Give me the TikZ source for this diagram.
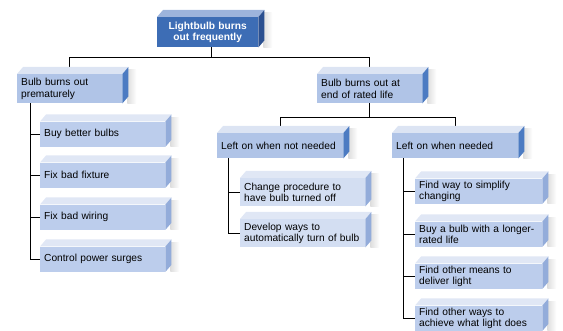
\documentclass[tikz,border=0pt]{standalone}
\usepackage{fontspec}
\setmainfont{Liberation Sans}
\definecolor{rootfront}{HTML}{3D6DB5}
\definecolor{roottop}{HTML}{9DB4DC}
\definecolor{rootside}{HTML}{2B5090}
\definecolor{midfront}{HTML}{B0C4E7}
\definecolor{midtop}{HTML}{DCE4F3}
\definecolor{midside}{HTML}{4C7BC2}
\definecolor{leaffront}{HTML}{BCCDEC}
\definecolor{leaftop}{HTML}{E0E7F5}
\definecolor{leafside}{HTML}{93ACDA}
\definecolor{palefront}{HTML}{D3DEF2}
\tikzset{every node/.style={font=\fontsize{10.2}{11.5}\selectfont},
	box/.style={anchor=north west,inner xsep=4pt,inner ysep=0pt,align=left,text width=#1},
	rootbox/.style={box=93pt,fill=rootfront,text=white,align=center,minimum height=30pt,
		font=\bfseries\fontsize{10.2}{11.5}\selectfont},
	midbox/.style={box=#1,fill=midfront,minimum height=25pt},
	leafbox/.style={box=117pt,fill=leaffront,minimum height=25pt},
	link/.style={draw,line width=1pt}}
\begin{document}
\begin{tikzpicture}[x=1pt,y=-1pt]
\useasboundingbox (0,0) rectangle (563,331);
\node [rootbox] (t) at (157,17) {Lightbulb burns\\out frequently};
\node [midbox=97pt,minimum height=29pt] (a) at (17,74) {Bulb burns out\\prematurely};
\node [midbox=97pt,minimum height=29pt] (b) at (317,74) {Bulb burns out at\\end of rated life};
\node [midbox=118pt] (c) at (217,133) {Left on when not needed};
\node [midbox=118pt] (d) at (392,133) {Left on when needed};
\node [leafbox] (a1) at (40,121.5) {Buy better bulbs};
\node [leafbox] (a2) at (40,162.5) {Fix bad fixture};
\node [leafbox] (a3) at (40,204.5) {Fix bad wiring};
\node [leafbox] (a4) at (40,246.5) {Control power surges};
\node [leafbox,fill=palefront,minimum height=28pt] (c1) at (240,178) {Change procedure to\\have bulb turned off};
\node [leafbox,fill=palefront,minimum height=28pt] (c2) at (240,219) {Develop ways to\\automatically turn of bulb};
\node [leafbox,text width=119pt] (d1) at (415,178.5) {Find way to simplify\\changing};
\node [leafbox,text width=119pt] (d2) at (415,221.5) {Buy a bulb with a longer-\\rated life};
\node [leafbox,text width=119pt] (d3) at (415,263.5) {Find other means to\\deliver light};
\node [leafbox,text width=119pt] (d4) at (415,305.5) {Find other ways to\\achieve what light does};

\draw [link] ([xshift=4pt]t.south) -- ++(0,10) -| (a.north);
\draw [link] ([xshift=4pt]t.south) -- ++(0,10) -| (b.north);
\draw [link] (b.south) -- ++(0,14) -| (c.north);
\draw [link] (b.south) -- ++(0,14) -| (d.north);
\foreach \k in {a1,a2,a3,a4}
	\draw [link] ([xshift=13pt]a.south west) |- (\k.west);
\foreach \k in {c1,c2}
	\draw [link] ([xshift=11pt]c.south west) |- (\k.west);
\foreach \k in {d1,d2,d3,d4}
	\draw [link] ([xshift=11pt]d.south west) |- (\k.west);

\foreach \n/\tp/\sd in {t/roottop/rootside,a/midtop/midside,b/midtop/midside,
	c/midtop/midside,d/midtop/midside,a1/leaftop/leafside,a2/leaftop/leafside,
	a3/leaftop/leafside,a4/leaftop/leafside,c1/leaftop/leafside,c2/leaftop/leafside,
	d1/leaftop/leafside,d2/leaftop/leafside,d3/leaftop/leafside,d4/leaftop/leafside}{
	\shade [left color=black!13,right color=white] ([shift={(5pt,4pt)}]\n.north east) rectangle ([xshift=14pt]\n.south east);
	\fill [\tp] (\n.north west) -- ++(6,-7) -- ([shift={(6pt,7pt)}]\n.north east) -- (\n.north east) -- cycle;
	\fill [\sd] (\n.north east) -- ++(6,-7) -- ([shift={(6pt,7pt)}]\n.south east) -- (\n.south east) -- cycle;
}
\end{tikzpicture}
\end{document}
